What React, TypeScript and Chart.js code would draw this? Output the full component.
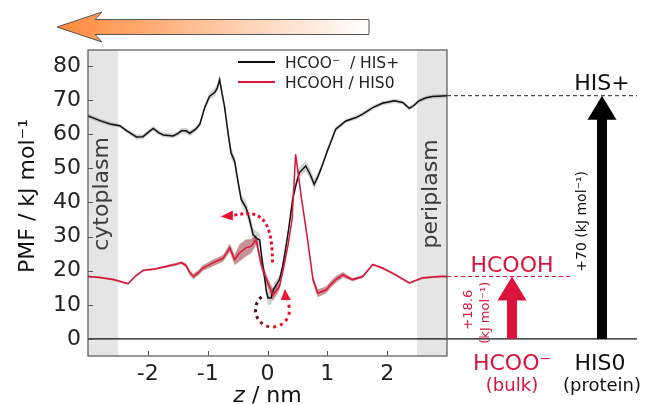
import React, { useEffect, useRef } from "react";
import { Chart, registerables } from "chart.js";

Chart.register(...registerables);

// ---------- data ----------
const zBlack = [-3.0, -2.8, -2.63, -2.47, -2.35, -2.19, -2.08, -2.0, -1.91, -1.82, -1.74, -1.58, -1.5, -1.44, -1.36, -1.3, -1.2, -1.13, -1.05, -0.97, -0.88, -0.84, -0.8, -0.76, -0.72, -0.66, -0.61, -0.55, -0.49, -0.44, -0.36, -0.3, -0.24, -0.18, -0.13, -0.09, -0.05, -0.02, 0.01, 0.06, 0.1, 0.15, 0.2, 0.25, 0.31, 0.36, 0.42, 0.48, 0.53, 0.64, 0.72, 0.78, 0.84, 0.89, 1.0, 1.14, 1.31, 1.48, 1.59, 1.76, 1.92, 2.12, 2.26, 2.37, 2.45, 2.53, 2.65, 2.76, 3.0];
const pmfBlack = [65.4, 64.0, 63.0, 62.5, 61.0, 59.2, 59.3, 60.5, 61.7, 60.5, 59.8, 59.5, 60.2, 61.0, 61.0, 60.3, 61.5, 63.0, 67.8, 71.1, 72.3, 73.5, 76.0, 72.0, 68.3, 60.5, 54.6, 52.1, 45.8, 40.9, 38.5, 35.0, 30.5, 29.5, 29.0, 23.0, 18.3, 14.0, 12.0, 12.0, 14.5, 16.0, 17.4, 21.0, 27.2, 33.0, 40.9, 45.5, 48.7, 50.7, 48.0, 45.3, 47.5, 49.7, 55.1, 61.5, 63.9, 64.9, 65.9, 67.8, 69.1, 69.8, 69.3, 67.6, 68.5, 69.8, 70.7, 71.1, 71.3];
const errBlack = [0.6, 0.6, 0.6, 0.6, 0.6, 0.7, 0.7, 0.7, 0.7, 0.7, 0.7, 0.7, 0.7, 0.8, 0.8, 0.8, 0.8, 0.8, 1.0, 1.0, 1.2, 1.2, 1.2, 1.2, 1.2, 1.5, 1.5, 1.5, 1.5, 1.5, 2.0, 2.0, 2.0, 2.0, 2.0, 2.0, 2.0, 2.0, 2.0, 2.0, 1.5, 1.5, 1.2, 1.0, 1.0, 1.0, 1.0, 1.2, 1.5, 1.5, 1.5, 1.5, 1.2, 1.0, 0.8, 0.7, 0.6, 0.6, 0.6, 0.6, 0.6, 0.6, 0.6, 0.6, 0.6, 0.6, 0.6, 0.6, 0.6];

const zRed = [-3.0, -2.8, -2.58, -2.45, -2.33, -2.2, -2.08, -1.88, -1.75, -1.63, -1.5, -1.44, -1.36, -1.3, -1.24, -1.15, -1.08, -0.91, -0.8, -0.74, -0.63, -0.55, -0.47, -0.36, -0.27, -0.19, -0.11, -0.05, 0.006, 0.09, 0.14, 0.2, 0.27, 0.34, 0.41, 0.47, 0.57, 0.67, 0.76, 0.84, 0.98, 1.06, 1.14, 1.26, 1.42, 1.59, 1.76, 1.92, 2.14, 2.37, 2.59, 2.87, 3.0];
const pmfRed = [18.3, 18.0, 17.4, 16.8, 16.2, 18.5, 20.1, 20.5, 21.0, 21.5, 22.0, 22.4, 21.5, 19.5, 18.3, 19.5, 20.8, 22.3, 23.2, 23.7, 26.7, 23.2, 25.2, 26.7, 27.2, 29.1, 22.3, 19.0, 16.4, 12.9, 14.0, 15.4, 21.0, 27.2, 35.0, 54.1, 41.0, 29.1, 17.4, 13.4, 14.4, 16.0, 17.4, 18.8, 17.4, 18.3, 21.8, 20.8, 18.8, 16.4, 17.9, 18.3, 18.3];
const errRed = [0.3, 0.3, 0.3, 0.3, 0.3, 0.3, 0.3, 0.3, 0.3, 0.4, 0.4, 0.4, 0.6, 0.8, 0.8, 0.8, 0.8, 1.0, 1.0, 1.0, 1.2, 1.5, 2.5, 2.5, 2.0, 1.5, 1.5, 1.5, 1.5, 1.8, 1.5, 1.0, 0.5, 0.5, 0.5, 0.5, 0.5, 0.5, 1.0, 1.2, 1.0, 1.0, 1.0, 0.8, 0.5, 0.4, 0.3, 0.3, 0.3, 0.3, 0.3, 0.3, 0.3];

const xTicks = [-2, -1, 0, 1, 2];
const yTicks = [0, 10, 20, 30, 40, 50, 60, 70, 80];
const seriesLabels = ["HCOO\u207B  / HIS+", "HCOOH / HIS0"];
const regionLabels = ["cytoplasm", "periplasm"];
const regionStart = [-3, 2.5];
const regionEnd = [-2.5, 3];
const stateLabelsTop = ["HCOOH", "HIS+"];
const stateLabelsBottom = ["HCOO\u207B", "HIS0"];
const stateSubLabels = ["(bulk)", "(protein)"];
const deltaBlackLabel = "+70 (kJ mol\u207B\u00B9)";
const deltaRedLabels = ["+18.6", "(kJ mol\u207B\u00B9)"];
const yTitle = "PMF / kJ mol\u207B\u00B9";

const W = 645;
const H = 404;
const FONT = "DejaVu Sans";
const RED = "#dc143c";

const pts = (xs: number[], ys: number[], d: number[] | null, sign: number) =>
  xs.map((x, i) => ({ x, y: ys[i] + (d ? sign * d[i] : 0) }));

const decor = {
  id: "decor",
  beforeDatasetsDraw(chart: any) {
    const { ctx, chartArea: a, scales } = chart;
    const x = scales.x, y = scales.y;
    ctx.save();
    ctx.fillStyle = "#e5e5e5";
    regionStart.forEach((s, i) => {
      const p0 = x.getPixelForValue(s), p1 = x.getPixelForValue(regionEnd[i]);
      ctx.fillRect(p0, a.top, p1 - p0, a.bottom - a.top);
    });
    ctx.fillStyle = "#3c3c3c";
    ctx.font = `22px ${FONT}`;
    ctx.textAlign = "center";
    ctx.textBaseline = "alphabetic";
    regionStart.forEach((s, i) => {
      const p0 = x.getPixelForValue(s);
      ctx.save();
      ctx.translate(p0 + 20, y.getPixelForValue(42.5));
      ctx.rotate(-Math.PI / 2);
      ctx.fillText(regionLabels[i], 0, 0);
      ctx.restore();
    });
    const y0 = y.getPixelForValue(0);
    ctx.strokeStyle = "#111";
    ctx.lineWidth = 1.3;
    ctx.beginPath();
    ctx.moveTo(a.left, y0);
    ctx.lineTo(637, y0);
    ctx.stroke();
    ctx.restore();
  },
  afterDraw(chart: any) {
    const { ctx, chartArea: a, scales } = chart;
    const x = scales.x, y = scales.y;
    ctx.save();
    ctx.strokeStyle = "#555";
    ctx.lineWidth = 1.2;
    ctx.strokeRect(a.left, a.top, a.right - a.left, a.bottom - a.top);
    ctx.strokeStyle = "#555";
    ctx.lineWidth = 1;
    yTicks.forEach((v) => {
      const py = Math.round(y.getPixelForValue(v)) + 0.5;
      ctx.beginPath();
      ctx.moveTo(a.left, py);
      ctx.lineTo(a.left + 5, py);
      ctx.stroke();
    });
    xTicks.forEach((v) => {
      const px = Math.round(x.getPixelForValue(v)) + 0.5;
      ctx.beginPath();
      ctx.moveTo(px, a.bottom);
      ctx.lineTo(px, a.bottom - 5);
      ctx.stroke();
    });

    ctx.fillStyle = "#111";
    ctx.font = `22px ${FONT}`;
    ctx.textAlign = "center";
    ctx.textBaseline = "alphabetic";
    ctx.save();
    ctx.translate(34, 196);
    ctx.rotate(-Math.PI / 2);
    ctx.fillText(yTitle, 0, 0);
    ctx.restore();

    const cx = (a.left + a.right) / 2;
    ctx.font = `italic 22px ${FONT}`;
    const w1 = ctx.measureText("z").width;
    ctx.font = `22px ${FONT}`;
    const w2 = ctx.measureText(" / nm").width;
    const sx = cx - (w1 + w2) / 2;
    ctx.textAlign = "left";
    ctx.font = `italic 22px ${FONT}`;
    ctx.fillText("z", sx, 402);
    ctx.font = `22px ${FONT}`;
    ctx.fillText(" / nm", sx + w1, 402);

    const lx = a.left + 150, ly = a.top + 12;
    ["#111", RED].forEach((c, i) => {
      ctx.strokeStyle = c;
      ctx.lineWidth = 2;
      ctx.beginPath();
      ctx.moveTo(lx, ly + i * 20);
      ctx.lineTo(lx + 37, ly + i * 20);
      ctx.stroke();
      ctx.fillStyle = "#222";
      ctx.font = `15.5px ${FONT}`;
      ctx.textAlign = "left";
      ctx.fillText(seriesLabels[i], lx + 47, ly + i * 20 + 5.5);
    });

    // dotted arrow 1
    const P = (zz: number, vv: number) => [x.getPixelForValue(zz), y.getPixelForValue(vv)];
    const s1 = P(0.083, 22.4);
    const k1 = P(0.083, 37.5);
    const k2 = P(-0.2, 37.5);
    const e1 = P(-0.58, 36.2);
    const t1 = P(-0.78, 35.9);
    ctx.setLineDash([3, 3]);
    ctx.lineWidth = 3;
    ctx.strokeStyle = "#e8102e";
    ctx.beginPath();
    ctx.moveTo(s1[0], s1[1]);
    ctx.bezierCurveTo(k1[0], k1[1], k2[0], k2[1], e1[0], e1[1]);
    ctx.stroke();
    ctx.setLineDash([]);
    ctx.fillStyle = "#e8102e";
    ctx.beginPath();
    ctx.moveTo(t1[0], t1[1]);
    ctx.lineTo(e1[0], e1[1] - 5);
    ctx.lineTo(e1[0], e1[1] + 5);
    ctx.closePath();
    ctx.fill();

    // dotted arrow 2
    const cc = P(0.083, 8.5);
    const r = 17;
    const g2 = ctx.createLinearGradient(cc[0] - r, cc[1] - r, cc[0] + r, cc[1]);
    g2.addColorStop(0, "#2a0808");
    g2.addColorStop(0.5, "#8a1a1a");
    g2.addColorStop(1, "#ee1530");
    ctx.strokeStyle = g2;
    ctx.setLineDash([3, 4]);
    ctx.lineWidth = 3;
    ctx.beginPath();
    ctx.arc(cc[0], cc[1], r, (230 * Math.PI) / 180, (-32 * Math.PI) / 180, true);
    ctx.stroke();
    ctx.setLineDash([]);
    ctx.fillStyle = "#ee1530";
    const ex = cc[0] + r * Math.cos((-32 * Math.PI) / 180);
    const ey = cc[1] + r * Math.sin((-32 * Math.PI) / 180);
    ctx.beginPath();
    ctx.moveTo(ex - 2, ey - 12);
    ctx.lineTo(ex - 6, ey - 1);
    ctx.lineTo(ex + 4, ey - 1);
    ctx.closePath();
    ctx.fill();

    // right panel
    const y0 = y.getPixelForValue(0);
    const yHis = y.getPixelForValue(pmfBlack[pmfBlack.length - 1]);
    const yAcid = y.getPixelForValue(pmfRed[pmfRed.length - 1]);
    ctx.lineWidth = 1;
    ctx.setLineDash([4, 3]);
    ctx.strokeStyle = "#222";
    ctx.beginPath();
    ctx.moveTo(a.right, yHis);
    ctx.lineTo(637, yHis);
    ctx.stroke();
    ctx.strokeStyle = RED;
    ctx.beginPath();
    ctx.moveTo(a.right, yAcid);
    ctx.lineTo(570, yAcid);
    ctx.stroke();
    ctx.setLineDash([]);

    const arrow = (ax: number, yTop: number, color: string) => {
      ctx.fillStyle = color;
      ctx.fillRect(ax - 5, yTop + 23, 10, y0 - yTop - 23);
      ctx.beginPath();
      ctx.moveTo(ax, yTop);
      ctx.lineTo(ax - 14.5, yTop + 24);
      ctx.lineTo(ax + 14.5, yTop + 24);
      ctx.closePath();
      ctx.fill();
    };
    const xr = 512, xb = 602;
    arrow(xb, yHis, "#000");
    arrow(xr, yAcid, RED);

    ctx.textAlign = "center";
    ctx.font = `22px ${FONT}`;
    ctx.fillStyle = "#111";
    ctx.fillText(stateLabelsTop[1], xb, yHis - 6);
    ctx.fillText(stateLabelsBottom[1], xb - 2, y0 + 31);
    ctx.font = `18px ${FONT}`;
    ctx.fillText(stateSubLabels[1], xb, y0 + 52);
    ctx.fillStyle = RED;
    ctx.font = `22px ${FONT}`;
    ctx.fillText(stateLabelsTop[0], xr, yAcid - 5);
    ctx.fillText(stateLabelsBottom[0], xr, y0 + 31);
    ctx.font = `18px ${FONT}`;
    ctx.fillText(stateSubLabels[0], xr, y0 + 52);

    ctx.font = `14px ${FONT}`;
    ctx.fillStyle = "#111";
    ctx.save();
    ctx.translate(xb - 16, (yHis + y0) / 2 + 4);
    ctx.rotate(-Math.PI / 2);
    ctx.fillText(deltaBlackLabel, 0, 0);
    ctx.restore();
    ctx.font = `13px ${FONT}`;
    ctx.fillStyle = RED;
    deltaRedLabels.forEach((t, i) => {
      ctx.save();
      ctx.translate(xr - 40 + i * 17, (yAcid + y0) / 2 + 2 + i * 3);
      ctx.rotate(-Math.PI / 2);
      ctx.fillText(t, 0, 0);
      ctx.restore();
    });

    const g = ctx.createLinearGradient(57, 0, 369, 0);
    g.addColorStop(0, "#ff8a3d");
    g.addColorStop(0.2, "#ffa060");
    g.addColorStop(0.6, "#ffd2b4");
    g.addColorStop(1, "#ffffff");
    ctx.fillStyle = g;
    ctx.strokeStyle = "#555";
    ctx.lineWidth = 1;
    ctx.beginPath();
    ctx.moveTo(57, 27);
    ctx.lineTo(102, 12);
    ctx.lineTo(95, 19.5);
    ctx.lineTo(369, 19.5);
    ctx.lineTo(369, 34.5);
    ctx.lineTo(95, 34.5);
    ctx.lineTo(102, 42);
    ctx.closePath();
    ctx.fill();
    ctx.stroke();
    ctx.restore();
  },
};

export default function App() {
  const ref = useRef<HTMLCanvasElement>(null);
  useEffect(() => {
    const chart = new Chart(ref.current as HTMLCanvasElement, {
      type: "line",
      data: {
        datasets: [
          { label: seriesLabels[1], data: pts(zRed, pmfRed, null, 0), borderColor: RED, borderWidth: 1.5, pointRadius: 0, fill: false },
          { label: seriesLabels[0], data: pts(zBlack, pmfBlack, null, 0), borderColor: "#111", borderWidth: 1.5, pointRadius: 0, fill: false },
          { label: "red+", data: pts(zRed, pmfRed, errRed, 1), borderWidth: 0, borderColor: "transparent", pointRadius: 0, fill: false },
          { label: "red-", data: pts(zRed, pmfRed, errRed, -1), borderWidth: 0, borderColor: "transparent", pointRadius: 0, fill: "-1", backgroundColor: "rgba(140,40,40,0.5)" },
          { label: "black+", data: pts(zBlack, pmfBlack, errBlack, 1), borderWidth: 0, borderColor: "transparent", pointRadius: 0, fill: false },
          { label: "black-", data: pts(zBlack, pmfBlack, errBlack, -1), borderWidth: 0, borderColor: "transparent", pointRadius: 0, fill: "-1", backgroundColor: "rgba(150,150,150,0.45)" },
        ],
      },
      options: {
        responsive: false,
        animation: false,
        devicePixelRatio: 1,
        layout: { padding: { top: 50, right: 198, left: 0, bottom: 0 } },
        plugins: { legend: { display: false }, tooltip: { enabled: false } },
        scales: {
          x: {
            type: "linear",
            min: -3,
            max: 3,
            afterBuildTicks: (s: any) => { s.ticks = xTicks.map((v) => ({ value: v })); },
            afterFit: (s: any) => { s.height = 48; },
            grid: { display: false, drawTicks: false, tickLength: 0 },
            border: { display: false },
            ticks: { font: { family: FONT, size: 22 }, color: "#222", padding: 5, maxRotation: 0, callback: (v: any) => String(v) },
          },
          y: {
            type: "linear",
            min: -5,
            max: 84.7,
            afterBuildTicks: (s: any) => { s.ticks = yTicks.map((v) => ({ value: v })); },
            afterFit: (s: any) => { s.width = 88; },
            grid: { display: false, drawTicks: false, tickLength: 0 },
            border: { display: false },
            ticks: { font: { family: FONT, size: 22 }, color: "#222", padding: 7, callback: (v: any) => String(v) },
          },
        },
      },
      plugins: [decor],
    } as any);
    return () => chart.destroy();
  }, []);
  return (
    <div style={{ position: "fixed", left: 0, top: 0, width: W, height: H, background: "#fff" }}>
      <canvas ref={ref} width={W} height={H} style={{ width: W, height: H, display: "block" }} />
    </div>
  );
}
